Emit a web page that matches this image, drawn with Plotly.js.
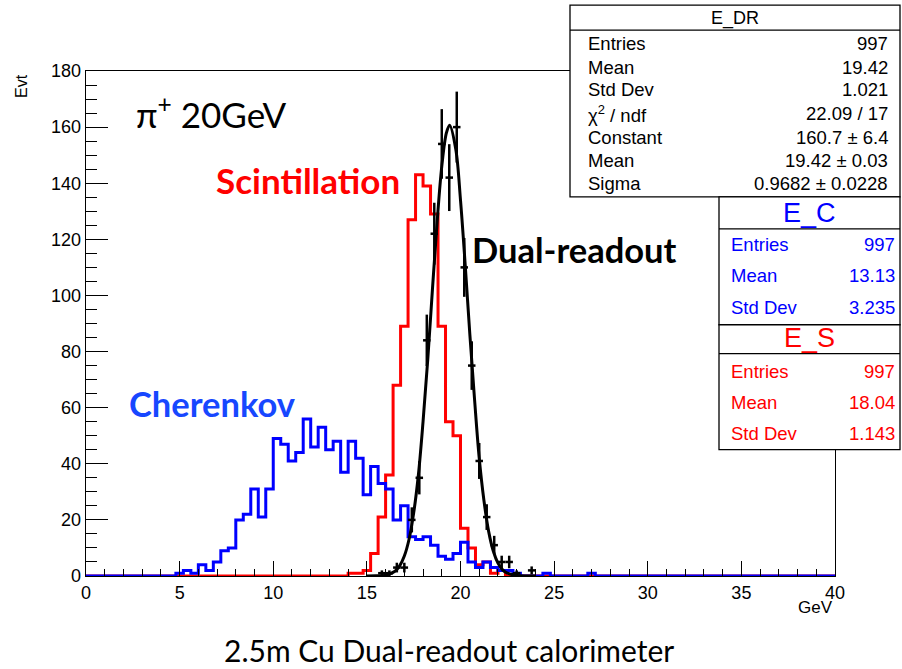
<!DOCTYPE html>
<html>
<head>
<meta charset="utf-8">
<script src="https://cdn.plot.ly/plotly-3.0.1.min.js"></script>
<style>html,body{margin:0;padding:0;background:#fff;}#chart{width:902px;height:669px;}</style>
</head>
<body>
<div id="chart"></div>
<script>
// ---------------- data ----------------
const binWidth = 0.4;            // GeV
const nBins = 100;               // 0 .. 40 GeV

// Cherenkov (E_C), first bin starts at 4.8 GeV
const cherenkovStart = 4.8;
const cherenkovCounts = [1,2,1,4,2,5,9,10,20,22,31,21,31,49,47,41,44,56,46,53,45,48,37,48,42,29,39,33,31,20,25,14,13,14,11,7,6,8,12,5,3,5,3,2,2,1,0,0,0,1,0,0,0,0,0,1];

// Scintillation (E_S), first bin starts at 14.0 GeV
const scintStart = 14.0;
const scintCounts = [1,1,2,8,21,36,68,89,127,143,139,129,89,55,50,17,10,4,5,1,2];

// Dual-readout (E_DR) data points: bin centres and counts
const drCenters = [15.8,16.2,16.6,17.0,17.4,17.8,18.2,18.6,19.0,19.4,19.8,20.2,20.6,21.0,21.4,21.8,22.2,22.6,23.0,23.8];
const drCounts  = [1,1,3,3,20,35,84,122,154,142,160,110,75,41,21,11,5,5,1,2];

// Gaussian fit curve
const fitX = [15.0,15.5,16.0,16.5,16.75,17.0,17.25,17.5,17.75,18.0,18.25,18.5,18.75,19.0,19.25,19.42,19.75,20.0,20.25,20.5,20.75,21.0,21.25,21.5,21.75,22.0,22.25,22.5,23.0,23.5,24.0];
const fitY = [0,0.05,0.3,1.7,3.6,7.1,13,22.5,36,55,77,102,126,146,158,160.7,152,134,111,86,63,42,27,16,8.9,4.6,2.2,1.0,0.2,0,0];

// axis ticks
const xTickVals = [0,5,10,15,20,25,30,35,40];
const yTickVals = [0,20,40,60,80,100,120,140,160,180];

// stats boxes
const statsDRTitle = "E_DR";
const statsDRLabels = ["Entries","Mean","Std Dev","χ<sup>2</sup> / ndf","Constant","Mean","Sigma"];
const statsDRValues = ["997","19.42","1.021","22.09 / 17","160.7 ± 6.4","19.42 ± 0.03","0.9682 ± 0.0228"];
const statsCTitle = "E_C";
const statsCLabels = ["Entries","Mean","Std Dev"];
const statsCValues = ["997","13.13","3.235"];
const statsSTitle = "E_S";
const statsSLabels = ["Entries","Mean","Std Dev"];
const statsSValues = ["997","18.04","1.143"];

// ---------------- build histograms ----------------
function fullHist(start, counts){
  const arr = new Array(nBins).fill(0);
  const i0 = Math.round(start / binWidth);
  counts.forEach((c,i)=>{ arr[i0+i] = c; });
  return arr;
}
function stepXY(arr){
  const xs = [], ys = [];
  for (let i=0;i<nBins;i++){ xs.push(i*binWidth); ys.push(arr[i]); }
  xs.push(nBins*binWidth); ys.push(arr[nBins-1]);
  return {xs, ys};
}
const ck = stepXY(fullHist(cherenkovStart, cherenkovCounts));
const sc = stepXY(fullHist(scintStart, scintCounts));

const traces = [
  {x: sc.xs, y: sc.ys, type:'scatter', mode:'lines', line:{shape:'hv', color:'#ff0000', width:3}, hoverinfo:'skip'},
  {x: ck.xs, y: ck.ys, type:'scatter', mode:'lines', line:{shape:'hv', color:'#0000ff', width:3}, hoverinfo:'skip'},
  {x: fitX, y: fitY, type:'scatter', mode:'lines', line:{shape:'spline', color:'#000000', width:3}, hoverinfo:'skip'},
  {x: drCenters, y: drCounts, type:'scatter', mode:'markers', marker:{size:2, color:'#000'},
   error_y:{type:'sqrt', color:'#000', thickness:2.5, width:0},
   error_x:{type:'constant', value: binWidth/2, color:'#000', thickness:2.5, width:0}, hoverinfo:'skip'}
];

// ---------------- layout helpers (pixel -> paper) ----------------
const L = 86, T = 71, W = 749, H = 505.5;
const PX = x => (x - L) / W;
const PY = y => (T + H - y) / H;

const shapes = [];
const annotations = [];
function rect(x0,y0,x1,y1){
  shapes.push({type:'rect', xref:'paper', yref:'paper', x0:PX(x0), x1:PX(x1), y0:PY(y1), y1:PY(y0),
    fillcolor:'#ffffff', line:{color:'#000', width:1.3}, layer:'above'});
}
function hline(x0,x1,y){
  shapes.push({type:'line', xref:'paper', yref:'paper', x0:PX(x0), x1:PX(x1), y0:PY(y), y1:PY(y),
    line:{color:'#000', width:1.3}, layer:'above'});
}
function text(t, x, y, opts){
  annotations.push(Object.assign({text:t, xref:'paper', yref:'paper', x:PX(x), y:PY(y),
    showarrow:false, xanchor:'left', yanchor:'middle',
    font:{family:'Liberation Sans, Arial, sans-serif', size:18.5, color:'#000'}}, opts||{}));
}

// E_DR box
rect(570, 5, 900, 197);
hline(570, 900, 30);
text(statsDRTitle, 735, 18, {xanchor:'center', font:{family:'Liberation Sans', size:18, color:'#000'}});
const drRowY = [43, 67, 90, 114, 138, 161, 184];
statsDRLabels.forEach((s,i)=>{
  text(s, 586, drRowY[i]);
  text(statsDRValues[i], 890, drRowY[i], {xanchor:'right'});
});

// E_C box
rect(719, 197, 900, 325);
hline(719, 900, 229);
text(statsCTitle, 809, 213, {xanchor:'center', font:{family:'Liberation Sans', size:27, color:'#0000ff'}});
const cRowY = [245, 276, 308];
statsCLabels.forEach((s,i)=>{
  text(s, 729, cRowY[i], {font:{family:'Liberation Sans', size:18.5, color:'#0000ff'}});
  text(statsCValues[i], 897, cRowY[i], {xanchor:'right', font:{family:'Liberation Sans', size:18.5, color:'#0000ff'}});
});

// E_S box
rect(719, 325, 900, 450);
hline(719, 900, 354);
text(statsSTitle, 809, 338, {xanchor:'center', font:{family:'Liberation Sans', size:27, color:'#ff0000'}});
const sRowY = [372, 403, 434];
statsSLabels.forEach((s,i)=>{
  text(s, 729, sRowY[i], {font:{family:'Liberation Sans', size:18.5, color:'#ff0000'}});
  text(statsSValues[i], 897, sRowY[i], {xanchor:'right', font:{family:'Liberation Sans', size:18.5, color:'#ff0000'}});
});

// labels on the plot
text('π<sup>+</sup> 20GeV', 134, 112, {font:{family:'Lato', size:35, color:'#000'}});
text('<b>Scintillation</b>', 214, 180, {font:{family:'Lato', size:35, color:'#ff0000'}});
text('<b>Dual-readout</b>', 470, 250, {font:{family:'Lato', size:34.5, color:'#000'}});
text('<b>Cherenkov</b>', 127, 404, {font:{family:'Lato', size:34.5, color:'#1747ff'}});
text('2.5m Cu Dual-readout calorimeter', 449, 651, {xanchor:'center', font:{family:'Lato', size:30, color:'#000'}});

// axis titles placed like ROOT
text('GeV', 835, 608, {xanchor:'right', font:{family:'Liberation Sans', size:17, color:'#000'}});
text('Evt', 22, 86, {xanchor:'center', textangle:-90, font:{family:'Liberation Sans', size:16, color:'#000'}});

const layout = {
  width: 902, height: 669,
  margin: {l: L, r: 902 - L - W, t: T, b: 669 - T - H, pad: 0},
  paper_bgcolor:'#fff', plot_bgcolor:'#fff',
  showlegend:false,
  xaxis:{range:[0,40], tickvals:xTickVals, ticktext:xTickVals.map(String), ticks:'inside', ticklen:15, tickwidth:1, tickcolor:'#000',
    minor:{ticks:'inside', ticklen:7.5, dtick:1, tick0:0, tickcolor:'#000', tickwidth:1},
    showline:true, linecolor:'#000', linewidth:1.3, mirror:true, showgrid:false, zeroline:false,
    tickfont:{family:'Liberation Sans', size:18, color:'#000'}, fixedrange:true},
  yaxis:{range:[0,180], tickvals:yTickVals, ticktext:yTickVals.map(String), ticks:'inside', ticklen:22, tickwidth:1, tickcolor:'#000',
    minor:{ticks:'inside', ticklen:11, dtick:5, tick0:0, tickcolor:'#000', tickwidth:1},
    showline:true, linecolor:'#000', linewidth:1.3, mirror:true, showgrid:false, zeroline:false,
    tickfont:{family:'Liberation Sans', size:18, color:'#000'}, fixedrange:true},
  shapes: shapes,
  annotations: annotations
};

Plotly.newPlot('chart', traces, layout, {staticPlot:true, displayModeBar:false});
</script>
</body>
</html>
